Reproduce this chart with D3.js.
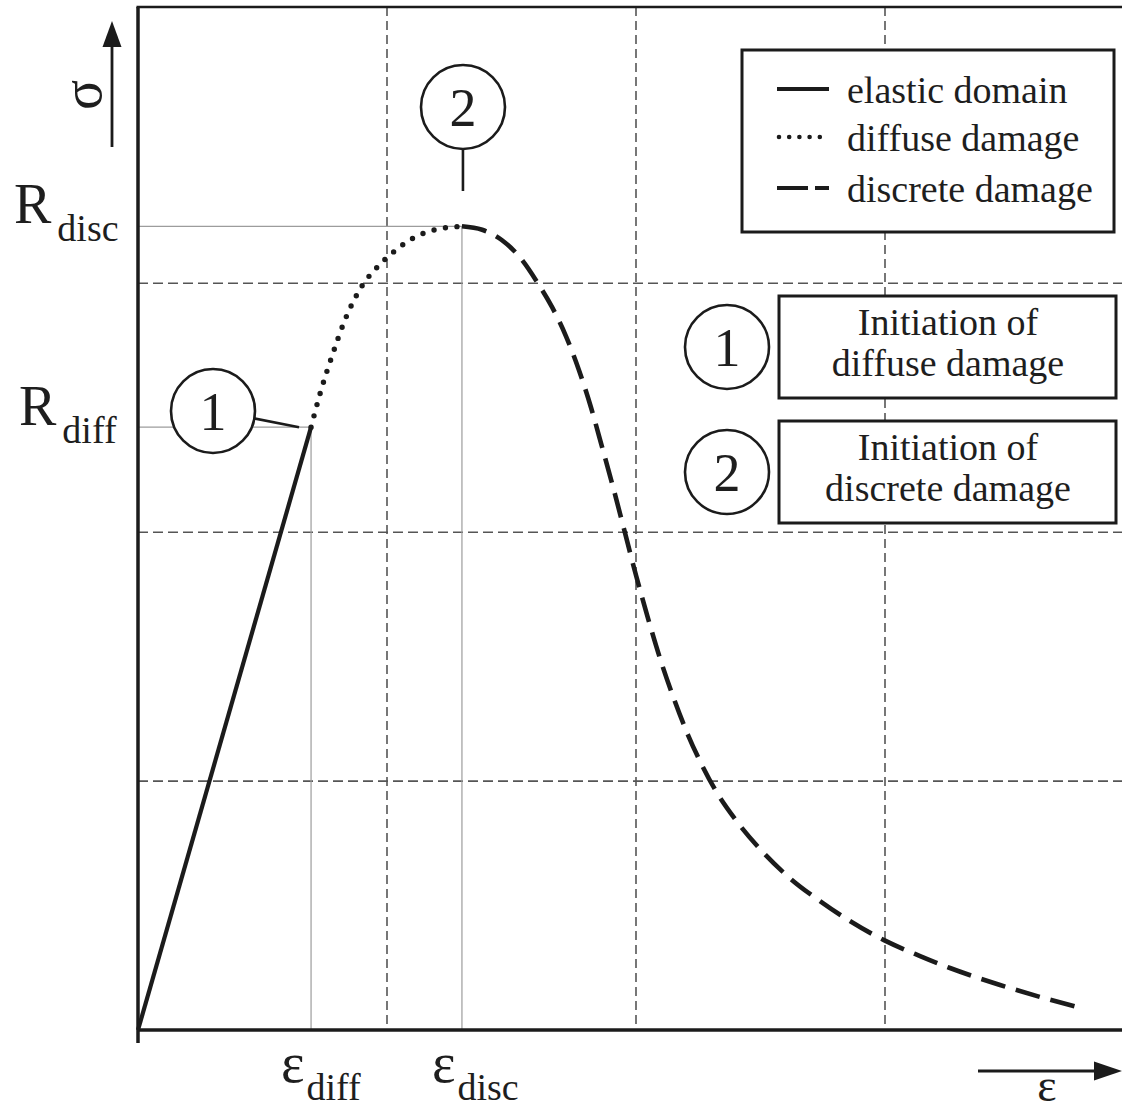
<!DOCTYPE html>
<html>
<head>
<meta charset="utf-8">
<script src="https://cdn.jsdelivr.net/npm/d3@7/dist/d3.min.js"></script>
<style>
  html, body { margin: 0; padding: 0; background: #fff; }
  svg { display: block; }
  text { font-family: "Liberation Serif", "Times New Roman", serif; fill: #1e1e1e; }
</style>
</head>
<body>
<svg id="chart" width="1122" height="1113"></svg>
<script>
// Stress–strain law: strain (x) and stress (y) in grid units
const elasticStrain  = [0, 0.695];
const elasticStress  = [0, 2.422];
const diffuseStrain  = [0.695, 0.735, 0.78, 0.83, 0.90, 0.96, 1.024, 1.104, 1.185, 1.301];
const diffuseStress  = [2.422, 2.57, 2.71, 2.85, 2.99, 3.064, 3.124, 3.181, 3.213, 3.229];
const discreteStrain = [1.301, 1.382, 1.462, 1.534, 1.606, 1.663, 1.719, 1.771, 1.819, 1.863, 1.908, 1.952, 2.0, 2.048, 2.1, 2.153, 2.209, 2.265, 2.321, 2.398, 2.498, 2.618, 2.739, 2.859, 2.996, 3.141, 3.261, 3.462, 3.622, 3.803];
const discreteStress = [3.229, 3.215, 3.173, 3.104, 3.0, 2.904, 2.787, 2.651, 2.502, 2.345, 2.181, 2.012, 1.827, 1.655, 1.482, 1.329, 1.185, 1.064, 0.960, 0.847, 0.727, 0.610, 0.518, 0.438, 0.361, 0.297, 0.249, 0.181, 0.133, 0.084];

const gridX = [1, 2, 3];
const gridY = [1, 2, 3];

const legendLabels = ["elastic domain", "diffuse damage", "discrete damage"];
const legendStyles = ["solid", "dotted", "dashed"];
const noteNumbers  = ["1", "2"];
const noteLines    = [["Initiation of", "diffuse damage"], ["Initiation of", "discrete damage"]];

const svg = d3.select("#chart");
const INK = "#1b1b1b";

const x = d3.scaleLinear().domain([0, 4]).range([138, 1134]);
const y = d3.scaleLinear().domain([0, 4.11]).range([1030, 7]);

const epsDiff = elasticStrain[1], rDiff = elasticStress[1];
const epsDisc = discreteStrain[0], rDisc = discreteStress[0];

// dashed grid
svg.append("g").selectAll("line").data(gridX).join("line")
  .attr("x1", d => x(d)).attr("x2", d => x(d))
  .attr("y1", y(4.11)).attr("y2", y(0))
  .attr("stroke", "#555").attr("stroke-width", 1.6).attr("stroke-dasharray", "9,5");
svg.append("g").selectAll("line").data(gridY).join("line")
  .attr("x1", x(0)).attr("x2", 1122)
  .attr("y1", d => y(d)).attr("y2", d => y(d))
  .attr("stroke", "#555").attr("stroke-width", 1.6).attr("stroke-dasharray", "10,5");

// thin guides to the characteristic points
const guides = [
  [x(epsDiff), y(rDiff), x(epsDiff), y(0)],
  [x(epsDisc), y(rDisc), x(epsDisc), y(0)],
  [x(0), y(rDiff), x(epsDiff), y(rDiff)],
  [x(0), y(rDisc), x(epsDisc), y(rDisc)]
];
svg.append("g").selectAll("line").data(guides).join("line")
  .attr("x1", d => d[0]).attr("y1", d => d[1])
  .attr("x2", d => d[2]).attr("y2", d => d[3])
  .attr("stroke", "#9c9c9c").attr("stroke-width", 1.2);

// axes frame
const frame = svg.append("g").attr("stroke", INK).attr("fill", "none");
frame.append("line").attr("x1", x(0)).attr("x2", x(0)).attr("y1", y(4.11)).attr("y2", 1043).attr("stroke-width", 3.5);
frame.append("line").attr("x1", x(0) - 1.5).attr("x2", 1122).attr("y1", y(4.11)).attr("y2", y(4.11)).attr("stroke-width", 2.6);
frame.append("line").attr("x1", x(0)).attr("x2", 1122).attr("y1", y(0)).attr("y2", y(0)).attr("stroke-width", 3.5);

// curve segments
const line = d3.line().x(d => x(d[0])).y(d => y(d[1])).curve(d3.curveMonotoneX);
const zip = (a, b) => a.map((v, i) => [v, b[i]]);

svg.append("path").datum(zip(elasticStrain, elasticStress))
  .attr("d", d3.line().x(d => x(d[0])).y(d => y(d[1])))
  .attr("fill", "none").attr("stroke", INK).attr("stroke-width", 4.2);
svg.append("path").datum(zip(diffuseStrain, diffuseStress))
  .attr("d", line)
  .attr("fill", "none").attr("stroke", INK).attr("stroke-width", 5.4)
  .attr("stroke-linecap", "round").attr("stroke-dasharray", "0,11.6");
svg.append("path").datum(zip(discreteStrain, discreteStress))
  .attr("d", line)
  .attr("fill", "none").attr("stroke", INK).attr("stroke-width", 4.6)
  .attr("stroke-dasharray", "25,11");

// numbered markers on the curve
function marker(cx, cy, label) {
  svg.append("circle").attr("cx", cx).attr("cy", cy).attr("r", 42)
    .attr("fill", "#fff").attr("stroke", INK).attr("stroke-width", 2.6);
  svg.append("text").attr("x", cx).attr("y", cy + 19).attr("text-anchor", "middle")
    .attr("font-size", 54).text(label);
}
svg.append("line").attr("x1", 252).attr("y1", 418).attr("x2", x(epsDiff) - 12).attr("y2", y(rDiff))
  .attr("stroke", INK).attr("stroke-width", 2.6);
marker(213, 411, noteNumbers[0]);
svg.append("line").attr("x1", x(epsDisc) + 1).attr("x2", x(epsDisc) + 1).attr("y1", 148).attr("y2", 191)
  .attr("stroke", INK).attr("stroke-width", 2.6);
marker(463, 107, noteNumbers[1]);

// legend
const leg = svg.append("g");
leg.append("rect").attr("x", 742).attr("y", 50).attr("width", 372).attr("height", 182)
  .attr("fill", "#fff").attr("stroke", INK).attr("stroke-width", 3);
const legY = [89, 137, 188];
legendStyles.forEach((s, i) => {
  const l = leg.append("line").attr("x1", 777).attr("x2", 829).attr("y1", legY[i]).attr("y2", legY[i])
    .attr("stroke", INK).attr("stroke-width", s === "dotted" ? 4.6 : 4.2);
  if (s === "dotted") l.attr("stroke-linecap", "round").attr("stroke-dasharray", "0,10.2").attr("x1", 779).attr("x2", 829);
  if (s === "dashed") l.attr("stroke-dasharray", "31,7");
  leg.append("text").attr("x", 847).attr("y", legY[i] + 14).attr("font-size", 38).text(legendLabels[i]);
});

// explanation boxes
const boxY = [296, 421];
noteLines.forEach((lines, i) => {
  const g = svg.append("g");
  g.append("rect").attr("x", 779).attr("y", boxY[i]).attr("width", 337).attr("height", 102)
    .attr("fill", "#fff").attr("stroke", INK).attr("stroke-width", 3);
  lines.forEach((t, j) => {
    g.append("text").attr("x", 948).attr("y", boxY[i] + 39 + j * 41)
      .attr("text-anchor", "middle").attr("font-size", 38).text(t);
  });
  g.append("circle").attr("cx", 727).attr("cy", boxY[i] + 51).attr("r", 42)
    .attr("fill", "#fff").attr("stroke", INK).attr("stroke-width", 2.6);
  g.append("text").attr("x", 727).attr("y", boxY[i] + 70).attr("text-anchor", "middle")
    .attr("font-size", 54).text(noteNumbers[i]);
});

// stress level labels
function subLabel(xp, yp, main, sub, mainSize, dx) {
  const t = svg.append("text").attr("x", xp).attr("y", yp);
  t.append("tspan").attr("font-size", mainSize).text(main);
  t.append("tspan").attr("font-size", 38).attr("dx", dx).attr("dy", 18).text(sub);
}
subLabel(14, y(rDisc) - 3, "R", "disc", 56, 6);
subLabel(19, y(rDiff) - 2, "R", "diff", 56, 6);
subLabel(x(epsDiff) - 30, 1082, "ε", "diff", 56, 2);
subLabel(x(epsDisc) - 30, 1082, "ε", "disc", 56, 2);

// axis arrows and symbols
svg.append("line").attr("x1", 112).attr("x2", 112).attr("y1", 147).attr("y2", 44)
  .attr("stroke", INK).attr("stroke-width", 2.8);
svg.append("path").attr("d", "M112,21 L102.5,47 L121.5,47 Z").attr("fill", INK);
svg.append("text").attr("transform", "translate(101,95) rotate(-90)")
  .attr("text-anchor", "middle").attr("font-size", 56).text("σ");

svg.append("line").attr("x1", 978).attr("x2", 1098).attr("y1", 1071).attr("y2", 1071)
  .attr("stroke", INK).attr("stroke-width", 2.8);
svg.append("path").attr("d", "M1122,1071 L1094,1061.5 L1094,1080.5 Z").attr("fill", INK);
svg.append("text").attr("x", 1047).attr("y", 1101).attr("text-anchor", "middle")
  .attr("font-size", 46).text("ε");
</script>
</body>
</html>
